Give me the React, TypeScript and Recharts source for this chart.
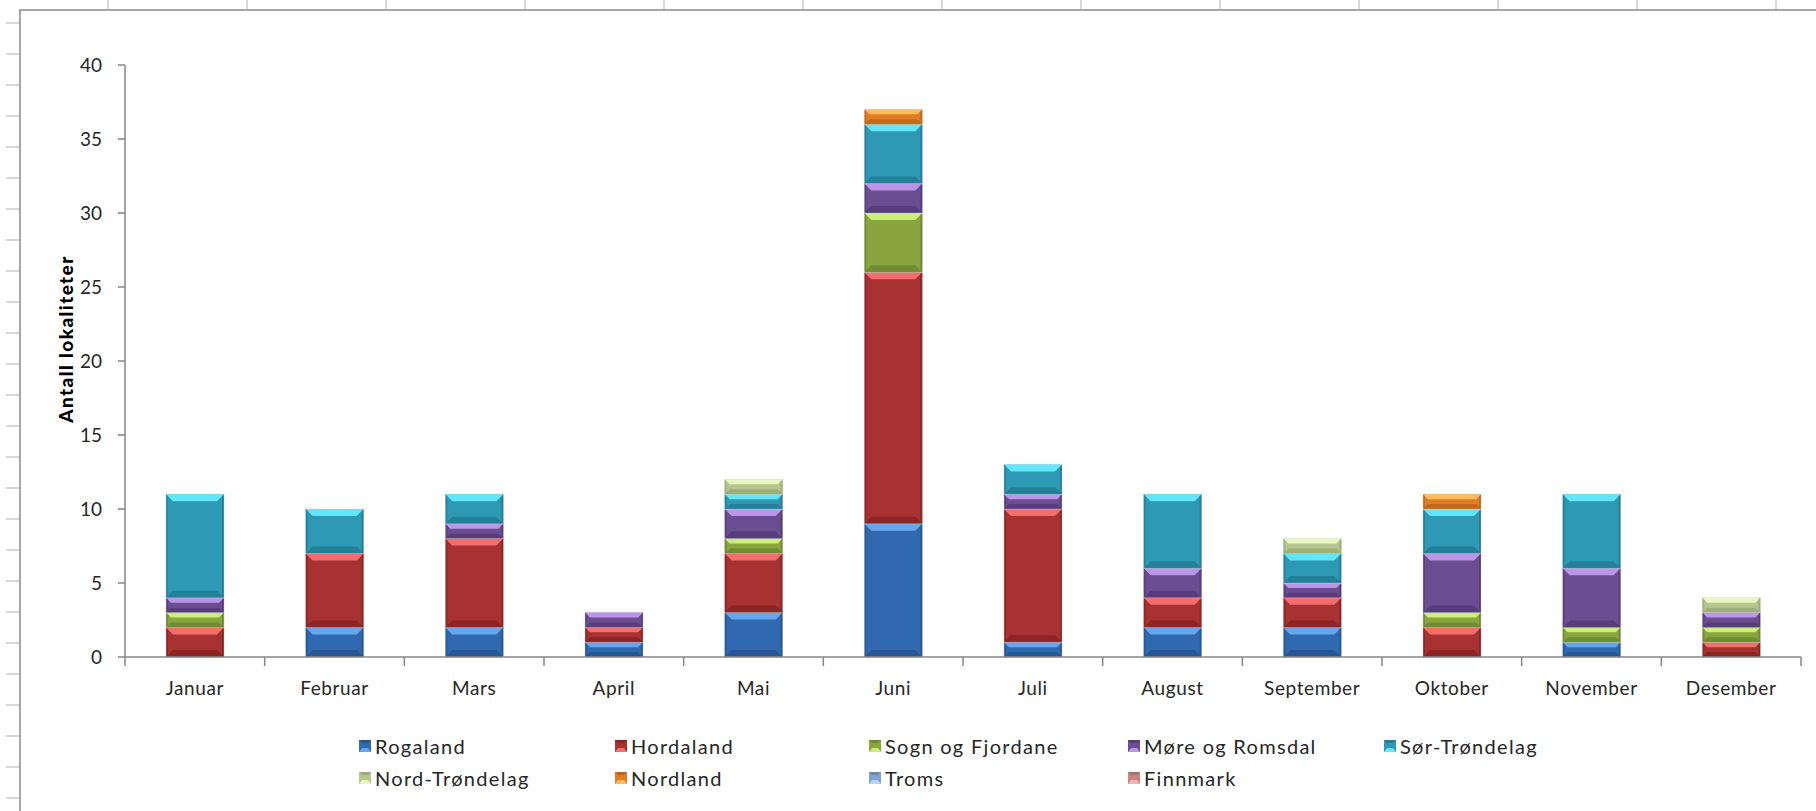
import React from "react";
import { BarChart, Bar, XAxis, YAxis, Legend } from "recharts";

const months = [
  "Januar", "Februar", "Mars", "April", "Mai", "Juni",
  "Juli", "August", "September", "Oktober", "November", "Desember",
];

const rogaland = [0, 2, 2, 1, 3, 9, 1, 2, 2, 0, 1, 0];
const hordaland = [2, 5, 6, 1, 4, 17, 9, 2, 2, 2, 0, 1];
const sognOgFjordane = [1, 0, 0, 0, 1, 4, 0, 0, 0, 1, 1, 1];
const moreOgRomsdal = [1, 0, 1, 1, 2, 2, 1, 2, 1, 4, 4, 1];
const sorTrondelag = [7, 3, 2, 0, 1, 4, 2, 5, 2, 3, 5, 0];
const nordTrondelag = [0, 0, 0, 0, 1, 0, 0, 0, 1, 0, 0, 1];
const nordland = [0, 0, 0, 0, 0, 1, 0, 0, 0, 1, 0, 0];
const troms = [0, 0, 0, 0, 0, 0, 0, 0, 0, 0, 0, 0];
const finnmark = [0, 0, 0, 0, 0, 0, 0, 0, 0, 0, 0, 0];

const yTicks = [0, 5, 10, 15, 20, 25, 30, 35, 40];

const series = [
  { key: "Rogaland", values: rogaland, fill: "#3169b0", light: "#66a6ec", dark: "#1d4a82" },
  { key: "Hordaland", values: hordaland, fill: "#a83131", light: "#f46e6e", dark: "#761c1c" },
  { key: "Sogn og Fjordane", values: sognOgFjordane, fill: "#88a53e", light: "#caee76", dark: "#5d7626" },
  { key: "Møre og Romsdal", values: moreOgRomsdal, fill: "#6b4d91", light: "#bb96e8", dark: "#48326a" },
  { key: "Sør-Trøndelag", values: sorTrondelag, fill: "#2d99b4", light: "#62e6f9", dark: "#1b6c82" },
  { key: "Nord-Trøndelag", values: nordTrondelag, fill: "#b5c68e", light: "#e8f7c2", dark: "#8a9a63" },
  { key: "Nordland", values: nordland, fill: "#e27c24", light: "#ffbd60", dark: "#a75a14" },
  { key: "Troms", values: troms, fill: "#7fa2cf", light: "#b6d4f6", dark: "#5a7aa5" },
  { key: "Finnmark", values: finnmark, fill: "#c98584", light: "#efb6b5", dark: "#9b5d5c" },
];

const data = months.map((month, i) => {
  const row: Record<string, string | number> = { month };
  series.forEach((s) => {
    row[s.key] = s.values[i];
  });
  return row;
});

const font = "Lato, 'Open Sans', sans-serif";

function makeBevel(light: string, dark: string) {
  return (props: any) => {
    const { x, y, width, height, fill } = props;
    if (!height || height <= 0.5) return <g />;
    const b = Math.min(7, height / 3);
    return (
      <g>
        <rect x={x} y={y} width={width} height={height} fill={fill} stroke="#d9d9d9" strokeWidth={0.6} />
        <polygon
          points={`${x},${y} ${x + width},${y} ${x + width - b},${y + b} ${x + b},${y + b}`}
          fill={light}
        />
        <polygon
          points={`${x},${y + height} ${x + width},${y + height} ${x + width - b},${y + height - b} ${x + b},${y + height - b}`}
          fill={dark}
          opacity={0.55}
        />
        <polygon
          points={`${x},${y} ${x + 2},${y + 2} ${x + 2},${y + height - 2} ${x},${y + height}`}
          fill={dark}
          opacity={0.45}
        />
        <polygon
          points={`${x + width},${y} ${x + width - 2},${y + 2} ${x + width - 2},${y + height - 2} ${x + width},${y + height}`}
          fill={dark}
          opacity={0.55}
        />
      </g>
    );
  };
}

const XTick = (props: any) => {
  const { x, y, payload, index, visibleTicksCount } = props;
  const half = payload?.offset ?? 70;
  const axisY = y - 8;
  return (
    <g>
      <line x1={x - half} y1={axisY} x2={x - half} y2={axisY + 9} stroke="#868686" strokeWidth={1.5} />
      {index === visibleTicksCount - 1 && (
        <line x1={x + half} y1={axisY} x2={x + half} y2={axisY + 9} stroke="#868686" strokeWidth={1.5} />
      )}
      <text
        x={x}
        y={axisY + 38}
        textAnchor="middle"
        fill="#262626"
        fontSize={19}
        letterSpacing={0.6}
        fontFamily={font}
      >
        {payload.value}
      </text>
    </g>
  );
};

const LegendIcon = ({ fill, light, dark }: { fill: string; light: string; dark: string }) => (
  <svg width={12} height={12} style={{ marginRight: 4, flexShrink: 0 }}>
    <rect x={0} y={0} width={12} height={12} fill={fill} />
    <polygon points="0,12 12,12 9,8 3,8" fill={light} />
    <polygon points="0,0 12,0 9,3 3,3" fill={dark} opacity={0.6} />
  </svg>
);

const renderLegend = () => (
  <div
    style={{
      display: "grid",
      gridTemplateColumns: "256px 254px 259px 256px 256px",
      rowGap: 8,
      fontFamily: font,
      fontSize: 20,
      letterSpacing: 1.3,
      color: "#262626",
    }}
  >
    {series.map((s) => (
      <div key={s.key} style={{ display: "flex", alignItems: "center", height: 24 }}>
        <LegendIcon fill={s.fill} light={s.light} dark={s.dark} />
        <span>{s.key}</span>
      </div>
    ))}
  </div>
);

export default function App() {
  return (
    <div
      style={{
        position: "absolute",
        left: 0,
        top: 0,
        width: 1816,
        height: 811,
        background: "#ffffff",
        overflow: "hidden",
      }}
    >
      {/* page frame with ruler ticks */}
      <div
        style={{
          position: "absolute",
          left: 6,
          top: 8,
          width: 14,
          height: 803,
          background:
            "repeating-linear-gradient(to bottom, transparent 0px, transparent 14px, #d6d6d6 14px, #d6d6d6 16px, transparent 16px, transparent 31px)",
        }}
      />
      <div
        style={{
          position: "absolute",
          left: 20,
          top: 0,
          width: 1796,
          height: 9,
          background:
            "repeating-linear-gradient(to right, transparent 0px, transparent 87px, #d9d9d9 87px, #d9d9d9 89px, transparent 89px, transparent 139px)",
        }}
      />
      <div
        style={{
          position: "absolute",
          left: 19,
          top: 9,
          width: 1797,
          height: 802,
          borderTop: "2px solid #a6a6a6",
          borderLeft: "2px solid #a6a6a6",
        }}
      />
      <div style={{ position: "absolute", left: 0, top: 0 }}>
        <BarChart
          width={1816}
          height={811}
          data={data}
          margin={{ top: 65, right: 15, bottom: 114, left: 65 }}
          barSize={58}
        >
          <XAxis
            dataKey="month"
            axisLine={{ stroke: "#868686", strokeWidth: 1.5 }}
            tickLine={false}
            tick={<XTick />}
            height={40}
            interval={0}
          />
          <YAxis
            domain={[0, 40]}
            ticks={yTicks}
            width={60}
            axisLine={{ stroke: "#868686", strokeWidth: 1.5 }}
            tickLine={{ stroke: "#868686", strokeWidth: 1.5 }}
            tickSize={7}
            tickMargin={16}
            tick={{ fill: "#262626", fontSize: 19, fontFamily: font }}
            label={{
              value: "Antall lokaliteter",
              angle: -90,
              position: "insideLeft",
              dx: -4,
              dy: -22,
              style: {
                textAnchor: "middle",
                fontFamily: font,
                fontWeight: 900,
                fontSize: 19,
                letterSpacing: 1.4,
                fill: "#000",
              },
            }}
          />
          <Legend
            layout="horizontal"
            verticalAlign="middle"
            align="center"
            content={renderLegend}
            wrapperStyle={{ position: "absolute", left: 359, top: 734, width: 1400 }}
          />
          {series.map((s) => (
            <Bar
              key={s.key}
              dataKey={s.key}
              stackId="a"
              fill={s.fill}
              shape={makeBevel(s.light, s.dark)}
              isAnimationActive={false}
            />
          ))}
        </BarChart>
      </div>
    </div>
  );
}
